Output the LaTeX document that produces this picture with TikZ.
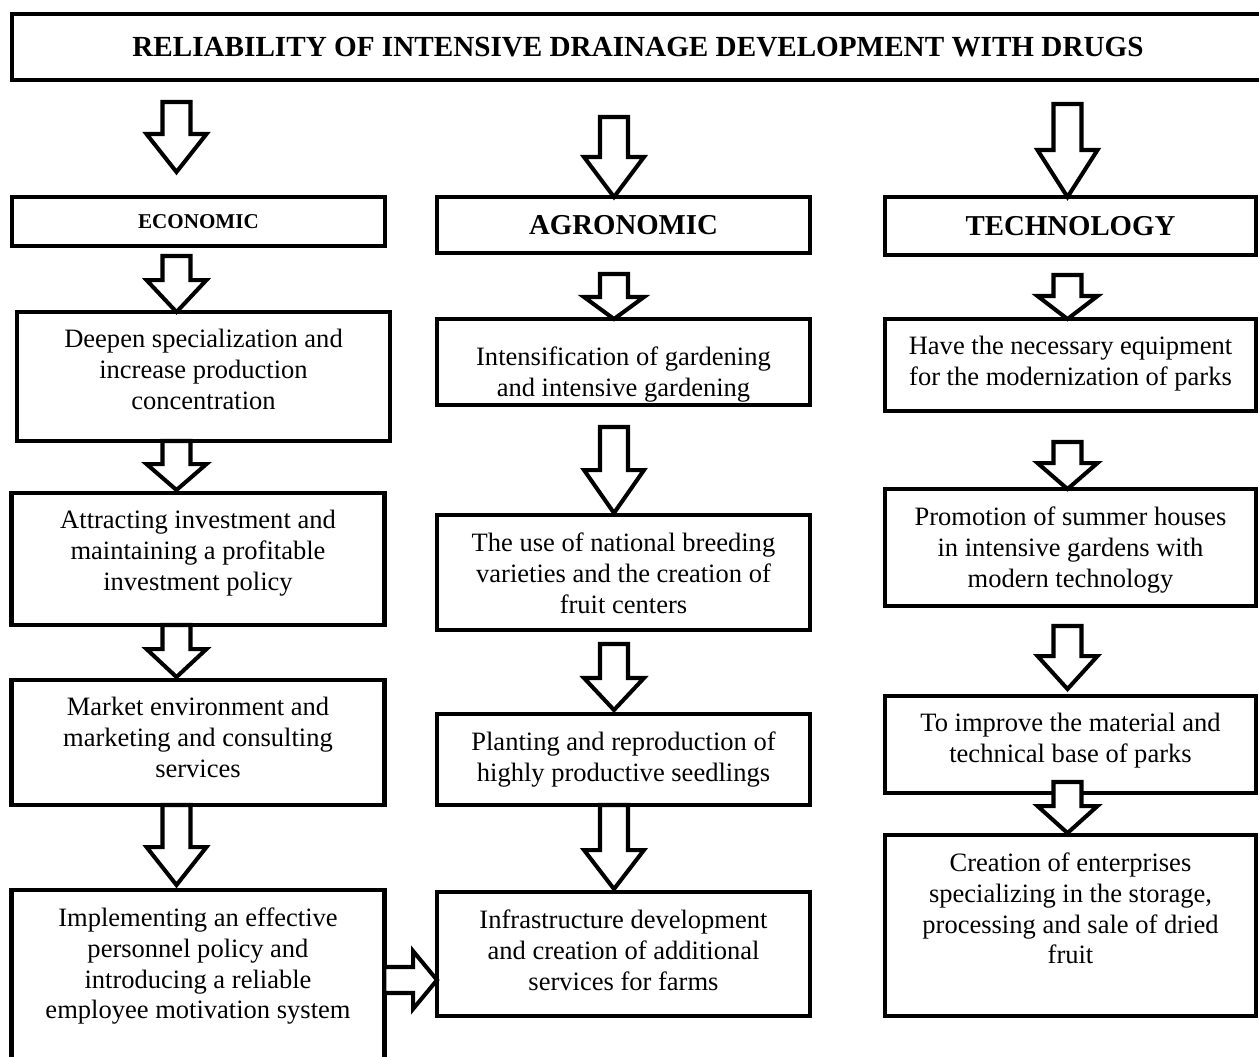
\documentclass[tikz,border=0pt]{standalone}
\usepackage{fontspec}
\setmainfont{Liberation Serif}
\usetikzlibrary{calc}

% text of a box, set from the top
\newcommand{\boxtext}[2]{\parbox[c][\dimexpr#1cm-0.7cm\relax][t]{7.2cm}{\centering #2}}
% hollow block arrow from one box down to the next
\newcommand{\fatdown}[6]{%
  \path ($(#1.south -| #3)+(0,#4)$) coordinate (tl)
        ($(#2.north -| #3)+(0,-#5)$) coordinate (tp);
  \draw[hollow] ($(tl)+(-14,0)$) -- ($(tl)+(14,0)$) -- ($(tp)+(14,-#6)$)
    -- ($(tp)+(30,-#6)$) -- (tp) -- ($(tp)+(-30,-#6)$) -- ($(tp)+(-14,-#6)$) -- cycle;}

\begin{document}
\begin{tikzpicture}[x=0.02cm, y=-0.02cm,
    stage/.style={draw, line width=2.4pt, inner sep=0pt, outer sep=0pt, minimum width=7.46cm,
      font=\fontsize{15.1}{17.6}\selectfont},
    head/.style={draw, line width=2.4pt, inner sep=0pt, outer sep=0pt, minimum width=7.46cm,
      font=\bfseries\fontsize{16.4}{19}\selectfont},
    hollow/.style={draw, fill=white, line width=2.3pt, line join=miter}]
    \useasboundingbox (0,0) rectangle (1259,1056);

    % Title
    \node[head, minimum width=25.04cm, minimum height=1.32cm, font=\bfseries\fontsize{16.6}{19}\selectfont]
        (title) at (638,47) {RELIABILITY OF INTENSIVE DRAINAGE DEVELOPMENT WITH DRUGS};

    % Column heads
    \node[head, minimum height=0.98cm, font=\bfseries\fontsize{12}{14}\selectfont] (eco) at (198.5,221.5) {ECONOMIC};
    \node[head, minimum height=1.12cm] (agro) at (623.5,225) {AGRONOMIC};
    \node[head, minimum height=1.16cm, minimum width=7.42cm] (tech) at (1070.5,226) {TECHNOLOGY};

    % Economic column
    \node[stage, minimum height=2.58cm] (deep) at (203.5,376.5)
        {\boxtext{2.58}{Deepen specialization and\\ increase production\\ concentration}};
    \node[stage, minimum height=2.64cm] (attr) at (198,559)
        {\boxtext{2.64}{Attracting investment and\\ maintaining a profitable\\ investment policy}};
    \node[stage, minimum height=2.5cm] (market) at (198,742.5)
        {\boxtext{2.5}{Market environment and\\ marketing and consulting\\ services}};
    \node[stage, minimum height=3.52cm] (impl) at (198,978)
        {\boxtext{3.52}{Implementing an effective\\ personnel policy and\\ introducing a reliable\\ employee motivation system}};

    % Agronomic column
    \node[stage, minimum height=1.72cm] (intens) at (623.5,362)
        {\boxtext{1.72}{\vspace*{0.2cm}Intensification of gardening\\ and intensive gardening}};
    \node[stage, minimum height=2.3cm] (use) at (623.5,572.5)
        {\boxtext{2.3}{The use of national breeding\\ varieties and the creation of\\ fruit centers}};
    \node[stage, minimum height=1.82cm] (plant) at (623.5,759.5)
        {\boxtext{1.82}{Planting and reproduction of\\ highly productive seedlings}};
    \node[stage, minimum height=2.48cm] (infra) at (623.5,954)
        {\boxtext{2.48}{Infrastructure development\\ and creation of additional\\ services for farms}};

    % Technology column
    \node[stage, minimum width=7.42cm, minimum height=1.84cm] (have) at (1070.5,365)
        {\boxtext{1.84}{Have the necessary equipment\\ for the modernization of parks}};
    \node[stage, minimum width=7.42cm, minimum height=2.34cm] (promo) at (1070.5,547.5)
        {\boxtext{2.34}{Promotion of summer houses\\ in intensive gardens with\\ modern technology}};
    \node[stage, minimum width=7.42cm, minimum height=1.94cm] (improve) at (1070.5,744.5)
        {\boxtext{1.94}{To improve the material and\\ technical base of parks}};
    \node[stage, minimum width=7.42cm, minimum height=3.62cm] (create) at (1070.5,925.5)
        {\boxtext{3.62}{Creation of enterprises\\ specializing in the storage,\\ processing and sale of dried\\ fruit}};

    % Arrow columns
    \coordinate (c1) at (176.5,0);
    \coordinate (c2) at (614,0);
    \coordinate (c3) at (1067.5,0);
    \coordinate (ry) at (0,980);

    % Block arrows
    \fatdown{title}{eco}{c1}{22}{25}{38}
    \fatdown{eco}{deep}{c1}{10}{0}{32}
    \fatdown{deep}{attr}{c1}{0}{3}{26}
    \fatdown{attr}{market}{c1}{0}{3}{28}
    \fatdown{market}{impl}{c1}{0}{5}{38}

    \fatdown{title}{agro}{c2}{37}{0}{40}
    \fatdown{agro}{intens}{c2}{21}{0}{22}
    \fatdown{intens}{use}{c2}{22}{2}{43}
    \fatdown{use}{plant}{c2}{14}{4}{32}
    \fatdown{plant}{infra}{c2}{0}{3}{39}

    \fatdown{title}{tech}{c3}{24}{0}{47}
    \fatdown{tech}{have}{c3}{20}{0}{23}
    \fatdown{have}{promo}{c3}{31}{0}{26}
    \fatdown{promo}{improve}{c3}{20}{7}{33}
    \fatdown{improve}{create}{c3}{-11}{2}{27}

    % Sideways arrow
    \path (impl.east |- ry) coordinate (rl) (infra.west |- ry) coordinate (rt);
    \draw[hollow] ($(rl)+(0,-13)$) -- ($(rt)+(-24,-13)$) -- ($(rt)+(-24,-29)$) -- (rt)
        -- ($(rt)+(-24,29)$) -- ($(rt)+(-24,13)$) -- ($(rl)+(0,13)$) -- cycle;

\end{tikzpicture}
\end{document}
